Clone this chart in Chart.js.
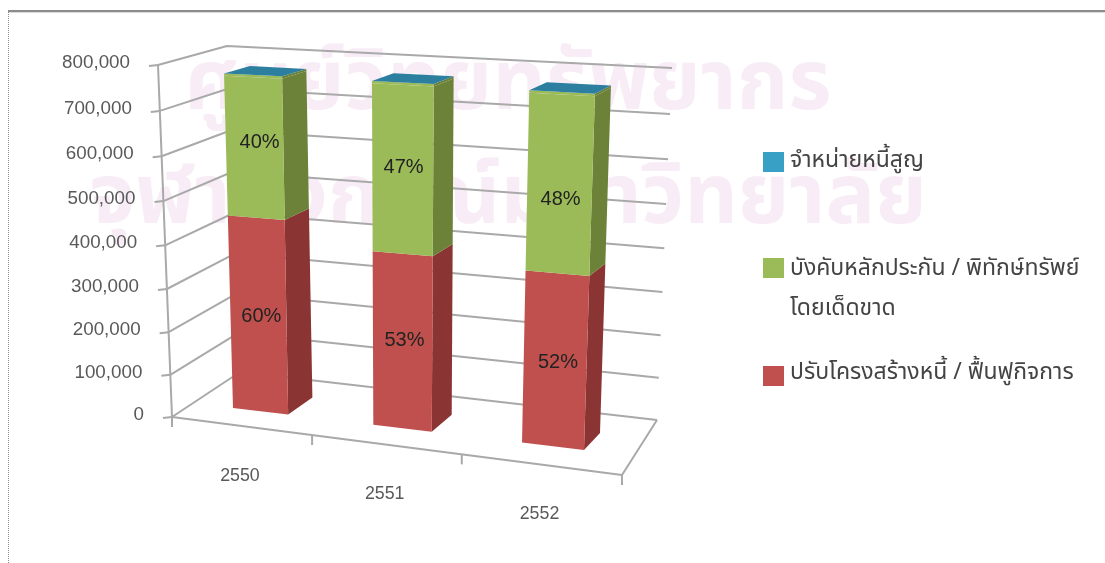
<!DOCTYPE html>
<html>
<head>
<meta charset="utf-8">
<style>
  html, body { margin: 0; padding: 0; background: #fff; }
  #wrap { position: relative; width: 1105px; height: 563px; }
  #chart { filter: blur(0.45px); }
</style>
<script src="https://cdn.jsdelivr.net/npm/chart.js@4"></script>
</head>
<body>
<div id="wrap"><canvas id="chart"></canvas></div>
<script>
const categories = ['2550', '2551', '2552'];
const restructure = [456000, 402000, 388000];
const enforcement = [314000, 368000, 379000];
const writeOff = [5000, 5000, 5000];
const restructureLabels = ['60%', '53%', '52%'];
const enforcementLabels = ['40%', '47%', '48%'];
const seriesNames = {
  writeOff: ['จำหน่ายหนี้สูญ'],
  enforcement: ['บังคับหลักประกัน / พิทักษ์ทรัพย์', 'โดยเด็ดขาด'],
  restructure: ['ปรับโครงสร้างหนี้ / ฟื้นฟูกิจการ']
};
const watermark = ['ศูนย์วิทยทรัพยากร', 'จุฬาลงกรณ์มหาวิทยาลัย'];

const THAI = '"Noto Sans Thai", "Noto Sans", "DejaVu Sans", sans-serif';
const LATIN = '"Liberation Sans", Arial, sans-serif';
const LINE = '#a9a9a9';
const TEXT = '#595959';

// unit square -> quad
function homography(p) {
  const [p0, p1, p2, p3] = p;
  const dx1 = p1[0] - p2[0], dx2 = p3[0] - p2[0], sx = p0[0] - p1[0] + p2[0] - p3[0];
  const dy1 = p1[1] - p2[1], dy2 = p3[1] - p2[1], sy = p0[1] - p1[1] + p2[1] - p3[1];
  const den = dx1 * dy2 - dx2 * dy1;
  const g = (sx * dy2 - dx2 * sy) / den;
  const h = (dx1 * sy - sx * dy1) / den;
  const a = p1[0] - p0[0] + g * p1[0], b = p3[0] - p0[0] + h * p3[0];
  const d = p1[1] - p0[1] + g * p1[1], e = p3[1] - p0[1] + h * p3[1];
  return (u, v) => {
    const w = g * u + h * v + 1;
    return [(a * u + b * v + p0[0]) / w, (d * u + e * v + p0[1]) / w];
  };
}

// the plane of the bars' front faces and of their back faces
const frontPlane = homography([[233, 408], [584, 450], [595.4, 80], [223.7, 62]]);
const backPlane = homography([[259, 391], [600, 433], [611.4, 72], [249.7, 55]]);
const barU = u => (u - 0.1) / 0.8;

// box walls and floor
const edgeFront = [[172, 417], [158, 65]];
const edgeBack = [[240, 372], [227, 46]];
const edgeRight = [[657, 420], [672, 68]];
const floorFrontEnd = [622, 475];

const lerp = (a, b, k) => [a[0] + (b[0] - a[0]) * k, a[1] + (b[1] - a[1]) * k];
const warpT = t => t / (1 + 0.05 * (1 - t));
const warpU = u => u / (1 + 0.106 * (1 - u));
const onEdge = (edge, t) => lerp(edge[0], edge[1], warpT(t));

function poly(ctx, pts, fill) {
  ctx.beginPath();
  pts.forEach((p, i) => i ? ctx.lineTo(p[0], p[1]) : ctx.moveTo(p[0], p[1]));
  ctx.closePath();
  ctx.fillStyle = fill;
  ctx.fill();
}

function line(ctx, pts) {
  ctx.beginPath();
  pts.forEach((p, i) => i ? ctx.lineTo(p[0], p[1]) : ctx.moveTo(p[0], p[1]));
  ctx.stroke();
}

const backdrop = {
  id: 'backdrop',
  beforeDraw(chart) {
    const ctx = chart.ctx;
    ctx.save();
    ctx.fillStyle = '#fff';
    ctx.fillRect(0, 0, chart.width, chart.height);
    // scanned watermark
    ctx.fillStyle = '#f8edf6';
    ctx.textAlign = 'center';
    ctx.textBaseline = 'middle';
    ctx.font = 'bold 83px ' + THAI;
    ctx.fillText(watermark[0], 508, 92);
    ctx.fillText(watermark[1], 508, 206);
    // frame of the scanned page
    ctx.fillStyle = '#8c8c8c';
    ctx.fillRect(8, 10, chart.width - 8, 2);
    ctx.fillStyle = '#dcdcdc';
    ctx.fillRect(8, 12, chart.width - 8, 1);
    ctx.strokeStyle = '#8c8c8c';
    ctx.setLineDash([1, 1]);
    ctx.lineWidth = 1;
    line(ctx, [[8.5, 10], [8.5, chart.height]]);
    ctx.restore();
  }
};

const box3d = {
  id: 'box3d',
  beforeDatasetsDraw(chart) {
    const ctx = chart.ctx;
    const { x: xs, y: ys } = chart.scales;
    const area = chart.chartArea;
    const uOf = px => (px - area.left) / (area.right - area.left);
    const tOf = py => (area.bottom - py) / (area.bottom - area.top);

    ctx.save();
    ctx.strokeStyle = LINE;
    ctx.lineWidth = 2;
    ctx.lineJoin = 'round';

    // grid on the side wall and back wall
    ys.ticks.forEach(tick => {
      const t = tOf(ys.getPixelForValue(tick.value));
      const f = onEdge(edgeFront, t);
      line(ctx, [f, onEdge(edgeBack, t), onEdge(edgeRight, t)]);
      line(ctx, [[f[0] - 9, f[1] + 1], f]);
      ctx.fillStyle = TEXT;
      ctx.font = '18.8px ' + LATIN;
      ctx.textAlign = 'right';
      ctx.textBaseline = 'middle';
      ctx.fillText(tick.label, f[0] - 28, f[1] - 2);
    });

    // vertical axis and floor
    line(ctx, edgeFront);
    line(ctx, [edgeFront[0], floorFrontEnd, edgeRight[0]]);

    // category ticks and labels along the front edge of the floor
    const frontAt = u => lerp(edgeFront[0], floorFrontEnd, warpU(u));
    [0, 1, 2, 3].forEach(i => {
      const p = frontAt(i / 3);
      line(ctx, [p, [p[0], p[1] + 10]]);
    });
    ctx.fillStyle = TEXT;
    ctx.font = '17.8px ' + LATIN;
    ctx.textAlign = 'center';
    categories.forEach((c, i) => {
      const p = frontAt(uOf(xs.getPixelForTick(i)));
      ctx.fillText(c, p[0] - 1, p[1] + 50);
    });

    // bars, bottom segment first
    chart.data.datasets.forEach((ds, di) => {
      const meta = chart.getDatasetMeta(di);
      meta.data.forEach(bar => {
        const p = bar.getProps(['x', 'y', 'base', 'width'], true);
        const ul = barU(uOf(p.x - p.width / 2));
        const ur = barU(uOf(p.x + p.width / 2));
        const t0 = tOf(p.base), t1 = tOf(p.y);
        poly(ctx, [frontPlane(ur, t0), backPlane(ur, t0), backPlane(ur, t1), frontPlane(ur, t1)], ds.sideColor);
        poly(ctx, [frontPlane(ul, t0), frontPlane(ur, t0), frontPlane(ur, t1), frontPlane(ul, t1)], ds.backgroundColor);
        if (di === chart.data.datasets.length - 1) {
          poly(ctx, [frontPlane(ul, t1), frontPlane(ur, t1), backPlane(ur, t1), backPlane(ul, t1)], ds.topColor);
        }
      });
    });

    // percent labels
    ctx.fillStyle = '#222';
    ctx.font = '20px ' + LATIN;
    ctx.textAlign = 'center';
    chart.data.datasets.forEach((ds, di) => {
      if (!ds.percents) return;
      chart.getDatasetMeta(di).data.forEach((bar, i) => {
        const p = bar.getProps(['x', 'y', 'base'], true);
        const q = frontPlane(barU(uOf(p.x)), tOf((p.y + p.base) / 2));
        ctx.fillText(ds.percents[i], q[0] + ds.nudge[i][0], q[1] + ds.nudge[i][1]);
      });
    });
    ctx.restore();
    return false;
  }
};

const sideLegend = {
  id: 'sideLegend',
  afterDraw(chart) {
    const ctx = chart.ctx;
    const rows = [[2, [162, 162]], [1, [268, 270, 310]], [0, [376, 374]]];
    ctx.save();
    ctx.font = '23px ' + THAI;
    ctx.textAlign = 'left';
    ctx.textBaseline = 'middle';
    rows.forEach(([di, ys]) => {
      const ds = chart.data.datasets[di];
      ctx.fillStyle = ds.legendColor;
      ctx.fillRect(763, ys[0] - 10, 21, 20);
      ctx.fillStyle = '#444';
      ds.label.forEach((text, i) => ctx.fillText(text, 790, ys[i + 1]));
    });
    ctx.restore();
  }
};

new Chart(document.getElementById('chart'), {
  type: 'bar',
  data: {
    labels: categories,
    datasets: [
      { label: seriesNames.restructure, data: restructure, backgroundColor: '#c0504d', legendColor: '#c0504d', sideColor: '#8a3533',
        percents: restructureLabels, nudge: [[3, 0], [2, -2], [3, 2]] },
      { label: seriesNames.enforcement, data: enforcement, backgroundColor: '#9bbb59', legendColor: '#9bbb59', sideColor: '#6b8238',
        percents: enforcementLabels, nudge: [[5, -6], [1, -3], [1, 14]] },
      { label: seriesNames.writeOff, data: writeOff, backgroundColor: '#9bbb59', legendColor: '#37a0c4', sideColor: '#6b8238', topColor: '#2c7f9e' }
    ]
  },
  options: {
    responsive: true,
    maintainAspectRatio: false,
    animation: false,
    barPercentage: 0.4,
    categoryPercentage: 1,
    plugins: { legend: { display: false }, tooltip: { enabled: false } },
    scales: {
      x: { stacked: true, grid: { display: false }, border: { display: false }, ticks: { display: false } },
      y: { stacked: true, min: 0, max: 800000, grid: { display: false }, border: { display: false },
        ticks: { display: false, stepSize: 100000, callback: v => v.toLocaleString('en-US') } }
    }
  },
  plugins: [backdrop, box3d, sideLegend]
});
</script>
</body>
</html>
